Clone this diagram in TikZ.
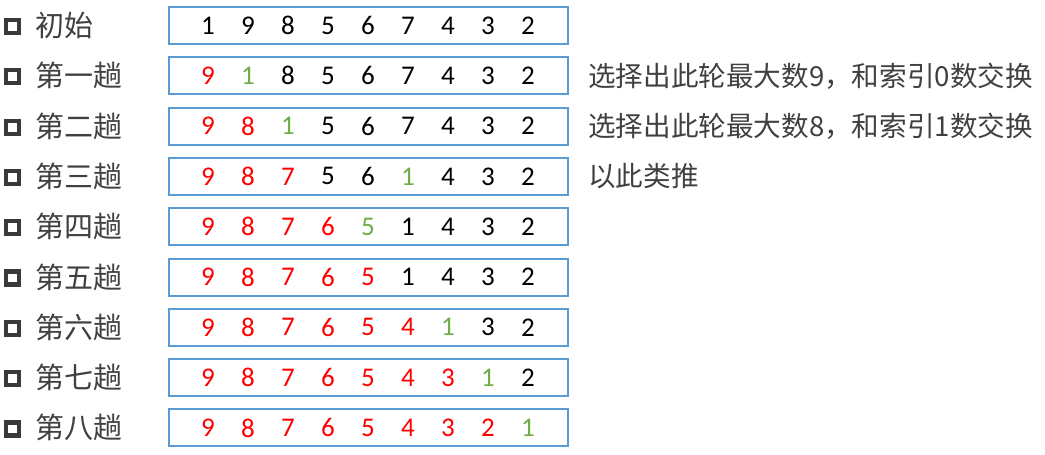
\documentclass[tikz,border=0pt]{standalone}
\usepackage{fontspec}
\setmainfont{Carlito}
\newfontfamily\cjk{Noto Sans CJK SC}
\definecolor{boxblue}{HTML}{5B9BD5}
\definecolor{mx}{HTML}{FF0000}
\definecolor{sw}{HTML}{70AD47}
\definecolor{pl}{HTML}{000000}
\definecolor{txt}{HTML}{404040}
\begin{document}
\begin{tikzpicture}[x=1pt,y=-1pt,
  row/.style={draw=boxblue,line width=2pt,minimum width=399pt,minimum height=37pt,inner sep=0pt},
  bul/.style={draw=txt!90!black,line width=4.2pt,minimum size=13pt,inner sep=0pt},
  tag/.style={anchor=west,inner sep=0pt,text=txt,font=\cjk\fontsize{29}{32}\selectfont},
  note/.style={tag,font=\cjk\fontsize{27.6}{30}\selectfont},
  num/.style={inner sep=0pt,font=\fontsize{27}{30}\selectfont}]
 \useasboundingbox (0,0) rectangle (1045,455);
 \foreach \r/\tg/\nums in {
   1/初始/{pl/1,pl/9,pl/8,pl/5,pl/6,pl/7,pl/4,pl/3,pl/2},
   2/第一趟/{mx/9,sw/1,pl/8,pl/5,pl/6,pl/7,pl/4,pl/3,pl/2},
   3/第二趟/{mx/9,mx/8,sw/1,pl/5,pl/6,pl/7,pl/4,pl/3,pl/2},
   4/第三趟/{mx/9,mx/8,mx/7,pl/5,pl/6,sw/1,pl/4,pl/3,pl/2},
   5/第四趟/{mx/9,mx/8,mx/7,mx/6,sw/5,pl/1,pl/4,pl/3,pl/2},
   6/第五趟/{mx/9,mx/8,mx/7,mx/6,mx/5,pl/1,pl/4,pl/3,pl/2},
   7/第六趟/{mx/9,mx/8,mx/7,mx/6,mx/5,mx/4,sw/1,pl/3,pl/2},
   8/第七趟/{mx/9,mx/8,mx/7,mx/6,mx/5,mx/4,mx/3,sw/1,pl/2},
   9/第八趟/{mx/9,mx/8,mx/7,mx/6,mx/5,mx/4,mx/3,mx/2,sw/1}}
 {
   \pgfmathsetmacro\y{25.5+50.3*(\r-1)}
   \node[bul] (S\r) at (12.5,\y+1) {};
   \node[tag] (L\r) at (35,\y) {\tg};
   \node[row] (B\r) at (368,\y) {};
   \foreach \c/\d [count=\i] in \nums
     \node[num,text=\c] (N\r-\i) at ({168+40*\i},\y) {\d};
 }
 % notes on the right
 \node[note] (T2) at (588,75.8) {选择出此轮最大数9，和索引0数交换};
 \node[note] (T3) at (588,126.1) {选择出此轮最大数8，和索引1数交换};
 \node[note] (T4) at (588,176.4) {以此类推};
\end{tikzpicture}
\end{document}
